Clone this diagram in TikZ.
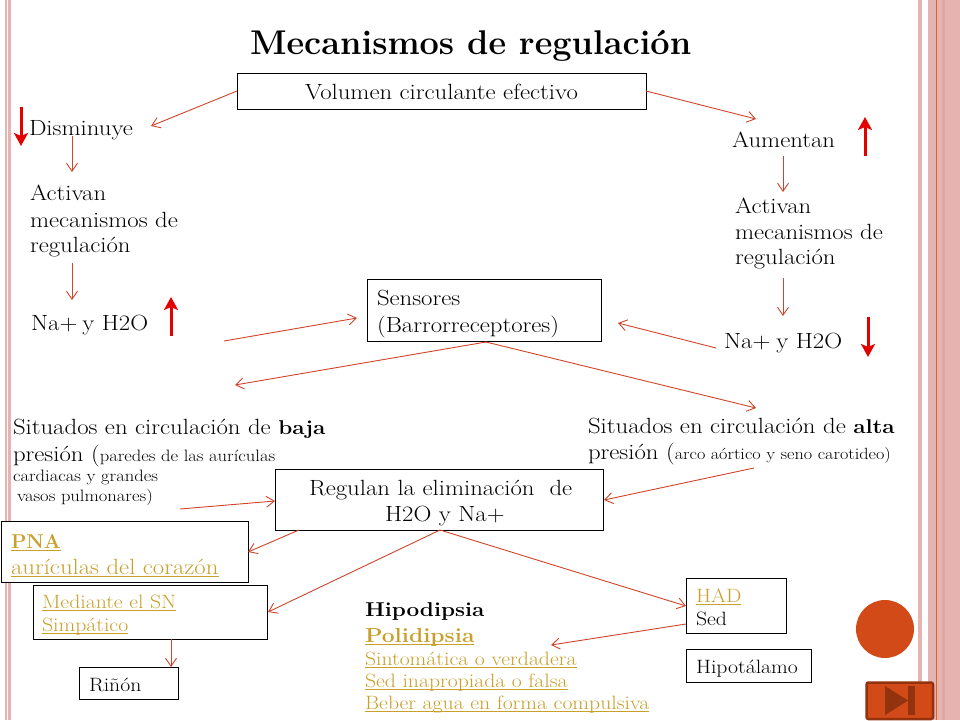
\documentclass[tikz,border=0pt]{standalone}
\usepackage{fontspec}
\setmainfont{Latin Modern Roman}[FakeStretch=1.125]
\newfontfamily\plainf{Latin Modern Roman}
\usetikzlibrary{arrows.meta,calc}
\definecolor{barpink}{HTML}{E6B4B0}
\definecolor{barline}{HTML}{D9622B}
\definecolor{bardark}{HTML}{DDA69F}
\definecolor{conn}{HTML}{D0452A}
\definecolor{gold}{HTML}{C9A02C}
\definecolor{orangefill}{HTML}{D24A17}
\definecolor{orangedark}{HTML}{93320F}
\newcommand{\fs}[1]{\fontsize{#1}{#1}\selectfont}
\newsavebox{\gulbox}
\newcommand{\gul}[1]{\sbox{\gulbox}{#1}\textcolor{gold}{\rlap{\rule[-2.4pt]{\wd\gulbox}{0.9pt}}#1}}
\tikzset{
  x=1pt,y=-1pt,
  lbl/.style={anchor=base west,inner sep=0pt,outer sep=0pt,font=\fs{22},yshift=-1.2pt},
  sml/.style={lbl,font=\fs{19.3}},
  boxn/.style={draw=black,line width=1pt,fill=white,inner sep=0pt,outer sep=0pt,anchor=north west},
  conarrow/.style={draw=conn,line width=0.9pt,-{Straight Barb[length=8pt,width=11pt,line width=0.9pt]}},
  redarrow/.style={draw=red!90!black,line width=3pt,-{Stealth[length=13pt,width=14pt,inset=3pt]}},
}
\begin{document}
\begin{tikzpicture}
\useasboundingbox (0,0) rectangle (960,720);
\fill[white] (0,0) rectangle (960,720);
% side bars
\fill[barpink] (5,0) rectangle (6.5,720);
\fill[barpink] (8,0) rectangle (11,720);
\fill[barpink] (918,0) rectangle (922,720);
\fill[barpink] (928,0) rectangle (960,720);
\fill[bardark] (942,0) rectangle (945,720);
\fill[barline] (936,0) rectangle (937.2,720);
% title
\node[lbl,font=\plainf\bfseries\fs{34.3}] (title) at (250,53) {Mecanismos de regulación};
% boxes
\node[boxn,minimum width=409pt,minimum height=36pt] (vol) at (237,73) {};
\node[boxn,minimum width=234pt,minimum height=62pt] (sens) at (367,279) {};
\node[boxn,minimum width=328pt,minimum height=61pt] (reg) at (275,469) {};
\node[boxn,minimum width=247pt,minimum height=61pt] (pna) at (1,521) {};
\node[boxn,minimum width=233.5pt,minimum height=54pt] (sn) at (33.5,585) {};
\node[boxn,minimum width=99pt,minimum height=32pt] (rin) at (79,667) {};
\node[boxn,minimum width=100pt,minimum height=55pt] (had) at (686,578) {};
\node[boxn,minimum width=125pt,minimum height=33pt] (hip) at (686,649) {};
% text
\node[lbl] (tvol) at (305,98) {Volumen circulante efectivo};
\node[lbl] (dism) at (29,134) {Disminuye};
\node[lbl] (aum) at (732,146) {Aumentan};
\node[lbl] (ac1a) at (30,199) {Activan};
\node[lbl] (ac1b) at (30,226) {mecanismos de};
\node[lbl] (ac1c) at (30,251) {regulación};
\node[lbl] (ac2a) at (735,212) {Activan};
\node[lbl] (ac2b) at (735,238) {mecanismos de};
\node[lbl] (ac2c) at (735,263) {regulación};
\node[lbl] (na1) at (31,329) {Na+\hspace{5pt}y H2O};
\node[lbl] (na2) at (724,347) {Na+\hspace{6pt}y H2O};
\node[lbl] (s1) at (377,304) {Sensores};
\node[lbl] (s2) at (377,331) {(Barrorreceptores)};
\node[lbl] (b1) at (13,433) {Situados en circulación de {\bfseries\fs{20}baja}};
\node[lbl] (b2) at (13,460) {presión ({\fs{16.5}paredes de las aurículas}};
\node[lbl,font=\fs{16.5}] (b3) at (13,480) {cardiacas y grandes};
\node[lbl,font=\fs{16.5}] (b4) at (17,500) {vasos pulmonares)};
\node[lbl] (a1) at (588,432) {Situados en circulación de {\bfseries\fs{20}alta}};
\node[lbl] (a2) at (588,458) {presión ({\fs{16.2}arco aórtico y seno carotideo)}};
\node[lbl] (r1) at (309,494) {Regulan la eliminación\ \ de};
\node[lbl] (r2) at (385,520) {H2O y Na+};
\node[lbl,font=\plainf\bfseries\fs{20}] (p1) at (11,547) {\gul{PNA}};
\node[lbl] (p2) at (11,573) {\gul{aurículas del corazón}};
\node[sml] (m1) at (42,607) {\gul{Mediante el SN}};
\node[sml] (m2) at (42,630) {\gul{Simpático}};
\node[sml] (tr) at (89,690) {Riñón};
\node[sml] (h1) at (696,601) {\gul{HAD}};
\node[sml] (h2) at (696,624) {Sed};
\node[sml] (th) at (696,672) {Hipotálamo};
\node[lbl,font=\bfseries\fs{20}] (q1) at (365,615) {Hipodipsia};
\node[lbl,font=\bfseries\fs{20.3}] (q2) at (365,641) {\gul{Polidipsia}};
\node[sml] (q3) at (365,664) {\gul{Sintomática o verdadera}};
\node[sml] (q4) at (365,686) {\gul{Sed inapropiada o falsa}};
\node[sml] (q5) at (365,708) {\gul{Beber agua en forma compulsiva}};
% free ends
\coordinate (e1) at (151,126);
\coordinate (e2) at (756,119);
\coordinate (d1a) at (72,136); \coordinate (d1b) at (72,172);
\coordinate (d2a) at (72,263); \coordinate (d2b) at (72,300);
\coordinate (d3a) at (783,156); \coordinate (d3b) at (783,192);
\coordinate (d4a) at (783,278); \coordinate (d4b) at (783,316);
\coordinate (n1) at (224,341); \coordinate (n1b) at (357,318);
\coordinate (n2) at (716,348); \coordinate (n2b) at (618,323);
\coordinate (f1) at (235,385); \coordinate (f2) at (756,408);
\coordinate (g1) at (180,509); \coordinate (g2) at (754,468);
\coordinate (g1b) at (275,501); \coordinate (g2b) at (604,500);
\coordinate (sb) at (486,342);
\coordinate (rb1) at (299,530); \coordinate (rb2) at (440,530);
\coordinate (pe) at (248,552); \coordinate (se) at (268,612);
\coordinate (he) at (686,606); \coordinate (hs) at (686,624);
\coordinate (qe) at (551,645);
\coordinate (sna) at (171,639); \coordinate (rinb) at (171,667);
% connectors
\draw[conarrow] (vol.west) -- (e1);
\draw[conarrow] (vol.east) -- (e2);
\draw[conarrow] (d1a) -- (d1b);
\draw[conarrow] (d2a) -- (d2b);
\draw[conarrow] (d3a) -- (d3b);
\draw[conarrow] (d4a) -- (d4b);
\draw[conarrow] (n1) -- (n1b);
\draw[conarrow] (n2) -- (n2b);
\draw[conarrow] (sb) -- (f1);
\draw[conarrow] (sb) -- (f2);
\draw[conarrow] (g1) -- (g1b);
\draw[conarrow] (g2) -- (g2b);
\draw[conarrow] (rb1) -- (pe);
\draw[conarrow] (rb2) -- (se);
\draw[conarrow] (rb2) -- (he);
\draw[conarrow] (hs) -- (qe);
\draw[conarrow] (sna) -- (rinb);
% red arrows
\coordinate (ra1) at (21,107); \coordinate (ra1b) at (21,146);
\coordinate (ra2) at (171,336); \coordinate (ra2b) at (171,297);
\coordinate (ra3) at (865,156); \coordinate (ra3b) at (865,117);
\coordinate (ra4) at (868,317); \coordinate (ra4b) at (868,357);
\draw[redarrow] (ra1) -- (ra1b);
\draw[redarrow] (ra2) -- (ra2b);
\draw[redarrow] (ra3) -- (ra3b);
\draw[redarrow] (ra4) -- (ra4b);
% circle and button
\fill[orangefill] (885,629) circle (29);
\fill[orangefill,draw=orangedark,line width=2.5pt,rounded corners=2pt] (866.5,682.5) rectangle (933,719);
\fill[orangedark] (885,686) -- (908,700.5) -- (885,715) -- cycle;
\fill[orangedark] (908,686) rectangle (915,715);
\end{tikzpicture}
\end{document}
